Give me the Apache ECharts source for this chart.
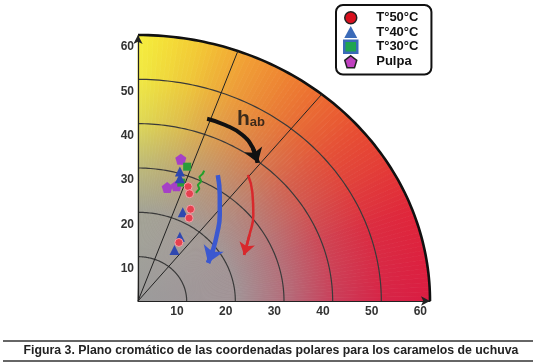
<!DOCTYPE html>
<html>
<head>
<meta charset="utf-8">
<script src="https://cdn.jsdelivr.net/npm/echarts@6/dist/echarts.min.js"></script>
<style>
  html, body { margin: 0; padding: 0; background: #fff; }
  #chart { width: 538px; height: 364px; }
</style>
</head>
<body>
<div id="chart"></div>
<script>
// ---- data (a*, b*) ----
const ringRadii = [10, 20, 30, 40, 50, 60];
const hueLineAngles = [70, 51];
const t50 = [[10.3, 25.8], [10.6, 24.2], [10.8, 20.7], [10.5, 18.7], [8.4, 13.2]];
const t40 = [[8.6, 29.2], [8.6, 27.7], [9.2, 20.0], [8.6, 14.5], [7.5, 11.5]];
const t30 = [[10.1, 30.3], [8.9, 26.7]];
const pulpa = [[8.8, 32.0], [6.0, 25.6], [7.9, 26.0]];
const t30Trace = [[11.9, 24.4], [12.6, 25.3], [12.3, 26.2], [13.0, 27.0], [12.6, 28.0], [13.3, 28.7], [13.6, 29.4]];
const blueArrow = [[16.4, 28.4], [16.8, 23.9], [16.8, 19.4], [16.2, 14.9], [15.4, 11.5], [14.4, 8.6]];
const redArrow = [[22.6, 28.4], [23.5, 24.5], [23.7, 19.4], [22.9, 14.9], [21.8, 10.4]];
const hueArrow = [[14.2, 41.1], [17.9, 39.7], [21.4, 37.5], [23.6, 34.5], [24.6, 31.2]];
const hLabelPos = [[23.2, 41.1]];
const seriesNames = ['T°50°C', 'T°40°C', 'T°30°C', 'Pulpa'];
const caption = 'Figura 3. Plano cromático de las coordenadas polares para los caramelos de uchuva';

// ---- styles ----
const HUE_STOPS = [[0, [218, 28, 66]], [20, [224, 38, 58]], [40, [232, 76, 50]], [55, [238, 118, 48]],
                   [68, [242, 160, 52]], [78, [244, 202, 52]], [86, [245, 228, 56]], [90, [246, 238, 62]]];
const GRAY = [156, 156, 156];
const PENTAGON = 'path://M50,0 L100,38 L81,100 L19,100 L0,38 Z';
const R = 60;

function mix(a, b, t) { return a.map((v, i) => Math.round(v + (b[i] - v) * t)); }
function rgb(c) { return 'rgb(' + c.join(',') + ')'; }
function hueAt(a) {
  for (let i = 1; i < HUE_STOPS.length; i++) {
    if (a <= HUE_STOPS[i][0]) {
      const p = HUE_STOPS[i - 1], q = HUE_STOPS[i];
      return mix(p[1], q[1], (a - p[0]) / (q[0] - p[0]));
    }
  }
  return HUE_STOPS[HUE_STOPS.length - 1][1];
}
function rad(d) { return d * Math.PI / 180; }

function renderBackground(params, api) {
  const o = api.coord([0, 0]);
  const children = [];
  for (let a = 0; a < 90; a += 1) {
    const pts = [o];
    for (let k = 0; k <= 2; k++) {
      const t = rad(a + k * 0.5);
      pts.push(api.coord([R * Math.cos(t), R * Math.sin(t)]));
    }
    const m = rad(a + 0.5);
    const e = api.coord([R * Math.cos(m), R * Math.sin(m)]);
    const hue = hueAt(a + 0.5);
    const stops = [[0, 0], [0.34, 0.08], [0.52, 0.4], [0.68, 0.75], [0.83, 0.93], [1, 1]]
      .map(s => ({ offset: s[0], color: rgb(mix(GRAY, hue, s[1])) }));
    const g = new echarts.graphic.LinearGradient(o[0], o[1], e[0], e[1], stops, true);
    children.push({ type: 'polygon', shape: { points: pts }, style: { fill: g, stroke: g, lineWidth: 0.8 } });
  }
  return { type: 'group', children };
}

function renderRings(params, api) {
  const children = [];
  ringRadii.forEach(r => {
    const pts = [];
    for (let d = 0; d <= 90; d += 1) pts.push(api.coord([r * Math.cos(rad(d)), r * Math.sin(rad(d))]));
    const outer = r === R;
    children.push({ type: 'polyline', shape: { points: pts },
      style: { stroke: outer ? '#111' : '#3a3a3a', lineWidth: outer ? 2.6 : 1.2, fill: null } });
  });
  const o = api.coord([0, 0]);
  hueLineAngles.forEach(a => {
    const e = api.coord([R * Math.cos(rad(a)), R * Math.sin(rad(a))]);
    children.push({ type: 'line', shape: { x1: o[0], y1: o[1], x2: e[0], y2: e[1] },
      style: { stroke: '#222', lineWidth: 1 } });
  });
  return { type: 'group', children };
}

function arrowSeries(pts, color, width, head) {
  return [
    { type: 'line', data: pts, smooth: true, showSymbol: false, symbol: 'none', z: 5,
      lineStyle: { color, width }, silent: true },
    { type: 'lines', coordinateSystem: 'cartesian2d', z: 5, silent: true,
      data: [{ coords: [pts[pts.length - 2], pts[pts.length - 1]] }],
      symbol: ['none', 'arrow'], symbolSize: head,
      lineStyle: { color, width, opacity: 1, curveness: 0 } }
  ];
}

const chart = echarts.init(document.getElementById('chart'));
const labelFont = { fontFamily: 'Liberation Sans', fontWeight: 'bold', fontSize: 12, color: '#333' };

chart.setOption({
  animation: false,
  backgroundColor: '#fff',
  grid: { left: 138, top: 35, width: 292, height: 266 },
  xAxis: {
    type: 'value', min: 0, max: 60, interval: 10, z: 10,
    axisLine: { show: true, symbol: ['none', 'arrow'], symbolSize: [7, 9], lineStyle: { color: '#222', width: 1.2 } },
    axisTick: { show: false }, splitLine: { show: false },
    axisLabel: Object.assign({ align: 'right', padding: [0, 3, 0, 0], margin: 5,
      formatter: v => (v === 0 ? '' : String(v)) }, labelFont)
  },
  yAxis: {
    type: 'value', min: 0, max: 60, interval: 10, z: 10,
    axisLine: { show: true, symbol: ['none', 'arrow'], symbolSize: [7, 9], lineStyle: { color: '#222', width: 1.2 } },
    axisTick: { show: false }, splitLine: { show: false },
    axisLabel: Object.assign({ verticalAlign: 'top', padding: [6, 0, 0, 0], margin: 4,
      formatter: v => (v === 0 ? '' : String(v)) }, labelFont)
  },
  legend: {
    left: 336, top: 5, orient: 'vertical', itemGap: 1, itemWidth: 13, itemHeight: 12,
    padding: [6, 13, 6, 7], borderColor: '#111', borderWidth: 2, borderRadius: 7, backgroundColor: '#fff',
    selectedMode: false,
    textStyle: { fontFamily: 'Liberation Sans', fontWeight: 'bold', fontSize: 13, color: '#111',
      lineHeight: 13, padding: [0, 0, 0, 14] },
    data: [
      { name: seriesNames[0], icon: 'circle', itemStyle: { color: '#d8101e', borderColor: '#222', borderWidth: 1.5 } },
      { name: seriesNames[1], icon: 'triangle', itemStyle: { color: '#3a6ab8', borderWidth: 0 } },
      { name: seriesNames[2], icon: 'rect', itemStyle: { color: '#1fa450', borderColor: '#3a6ab8', borderWidth: 2.5 } },
      { name: seriesNames[3], icon: PENTAGON, itemStyle: { color: '#c040c0', borderColor: '#222', borderWidth: 1.5 } }
    ]
  },
  graphic: [
    { type: 'line', shape: { x1: 3, y1: 341, x2: 533, y2: 341 }, style: { stroke: '#333', lineWidth: 1.5 } },
    { type: 'line', shape: { x1: 3, y1: 361, x2: 533, y2: 361 }, style: { stroke: '#333', lineWidth: 1.5 } },
    { type: 'text', x: 271, y: 351, style: { text: caption, fontFamily: 'Liberation Sans', fontWeight: 'bold',
      fontSize: 12.3, fill: '#222', align: 'center', verticalAlign: 'middle' } }
  ],
  series: [
    { type: 'custom', renderItem: renderBackground, data: [[0, 0]], clip: false, z: 0, silent: true },
    { type: 'custom', renderItem: renderRings, data: [[0, 0]], clip: false, z: 1, silent: true },
    { name: seriesNames[2] + ' trace', type: 'line', data: t30Trace, showSymbol: false, symbol: 'none', z: 3,
      lineStyle: { color: '#23a02a', width: 2 }, silent: true },
    { name: seriesNames[3], type: 'scatter', data: pulpa, symbol: PENTAGON, symbolSize: 11, z: 3,
      itemStyle: { color: '#a640c6', opacity: 1 } },
    { name: seriesNames[2], type: 'scatter', data: t30, symbol: 'rect', symbolSize: 8, z: 3,
      itemStyle: { color: '#2a9d3a', opacity: 1 } },
    { name: seriesNames[1], type: 'scatter', data: t40, symbol: 'triangle', symbolSize: 10, z: 4,
      itemStyle: { color: '#2f48b0', opacity: 1 } },
    { name: seriesNames[0], type: 'scatter', data: t50, symbol: 'circle', symbolSize: 8, z: 4,
      itemStyle: { color: '#e6404f', borderColor: '#f4a0a8', borderWidth: 1, opacity: 1 } },
    ...arrowSeries(blueArrow, '#3b58d0', 4.5, 16),
    ...arrowSeries(redArrow, '#d8282c', 2.5, 12),
    ...arrowSeries(hueArrow, '#111', 4, 14),
    { type: 'scatter', data: hLabelPos, symbolSize: 0, z: 6, silent: true,
      label: { show: true, position: 'inside', formatter: '{h|h}{s|ab}',
        rich: { h: { fontFamily: 'Liberation Sans', fontWeight: 'bold', fontSize: 21, color: '#111' },
                s: { fontFamily: 'Liberation Sans', fontWeight: 'bold', fontSize: 13, color: '#111',
                     verticalAlign: 'bottom', padding: [8, 0, 0, 0] } } } }
  ]
});
</script>
</body>
</html>
